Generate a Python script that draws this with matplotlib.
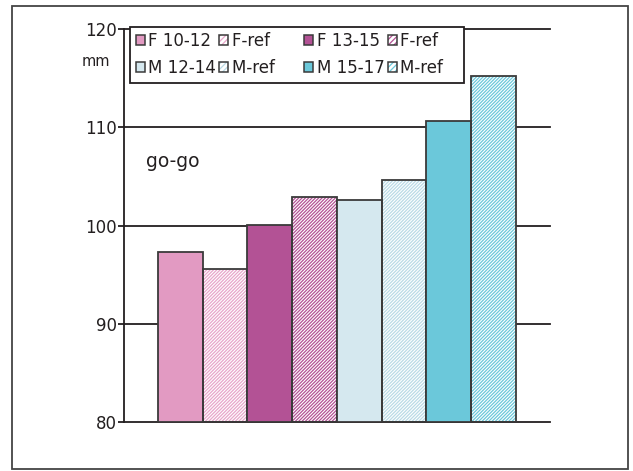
import matplotlib
matplotlib.use("Agg")
import matplotlib.pyplot as plt
from matplotlib.patches import Patch, Rectangle

# bar order as drawn, left to right
labels = ["F 10-12", "F-ref", "F 13-15", "F-ref", "M 12-14", "M-ref", "M 15-17", "M-ref"]
values = [97.3, 95.6, 100.1, 102.9, 102.6, 104.6, 110.6, 115.2]
hatched = [False, True, False, True, False, True, False, True]
colors = ["#E29AC2", "#E8A6CA", "#B35295", "#B35295", "#D5E8EF", "#BADBE6", "#6BC8DA", "#6BC8DA"]
yticks = [80, 90, 100, 110, 120]

ink = "#231f20"
edge = "#3a3a3a"
plt.rcParams["font.family"] = "DejaVu Sans"
plt.rcParams["hatch.linewidth"] = 0.9

fig = plt.figure(figsize=(6.33, 4.71), dpi=100)
ax = fig.add_axes([124.3 / 633, 1 - 422.3 / 471, (550 - 124.3) / 633, (422.3 - 29) / 471])

# grid lines sit behind the bars
for y in yticks[1:]:
    ax.axhline(y, color=ink, lw=1.3, zorder=0, clip_on=False)

xs = list(range(len(values)))
handles = []
for x, v, c, h in zip(xs, values, colors, hatched):
    if h:
        ax.bar(x, v - 80, bottom=80, width=1.0, facecolor="white", edgecolor=c,
               hatch="/" * 10, linewidth=0, zorder=2)
        ax.bar(x, v - 80, bottom=80, width=1.0, fill=False, edgecolor=edge,
               linewidth=1.3, zorder=3)
        hp = Patch(facecolor="white", edgecolor=c, hatch="/" * 6, linewidth=0)
        ep = Patch(fill=False, edgecolor=edge, linewidth=1.1)
        handles.append((hp, ep))
    else:
        ax.bar(x, v - 80, bottom=80, width=1.0, color=c, edgecolor=edge,
               linewidth=1.3, zorder=3)
        handles.append(Patch(facecolor=c, edgecolor=edge, linewidth=1.1))

ax.set_xlim(-1.25, 8.26)
ax.set_ylim(80, 120)
ax.set_yticks(yticks)
ax.set_xticks([])
ax.tick_params(axis="y", direction="out", length=4.3, width=1.3, color=ink,
               labelsize=12, labelcolor=ink, pad=1)
for s in ["top", "right"]:
    ax.spines[s].set_visible(False)
for s in ["left", "bottom"]:
    ax.spines[s].set_linewidth(1.3)
    ax.spines[s].set_color(ink)

# legend: matplotlib fills columns first, so reorder to get the reference rows
order = [0, 4, 1, 5, 2, 6, 3, 7]
pads = ["", "", " " * 5, " " * 5, "", "", " " * 3, " " * 3]
leg_labels = [labels[i] + p for i, p in zip(order, pads)]
leg = ax.legend([handles[i] for i in order], leg_labels, ncol=4, loc="upper left",
                bbox_to_anchor=(130 / 633, 1 - 26.7 / 471), bbox_transform=fig.transFigure,
                borderaxespad=0, fontsize=12, handlelength=0.55, handleheight=0.55,
                handletextpad=0.2, columnspacing=0.2, borderpad=0.33, labelspacing=0.55,
                frameon=True, fancybox=False, framealpha=1, edgecolor=ink)
leg.get_frame().set_linewidth(1.3)
for t in leg.get_texts():
    t.set_color(ink)

fig.text(96 / 633, 1 - 62 / 471, "mm", ha="center", va="center", fontsize=10.5, color=ink)
fig.text(146 / 633, 1 - 162 / 471, "go-go", ha="left", va="center", fontsize=13.5, color=ink)

# outer frame around the whole picture
fig.patches.append(Rectangle((12 / 633, 2 / 471), 616 / 633, 463 / 471, transform=fig.transFigure,
                             fill=False, edgecolor="#444444", linewidth=1.3))

fig.savefig("out.png", dpi=100)
